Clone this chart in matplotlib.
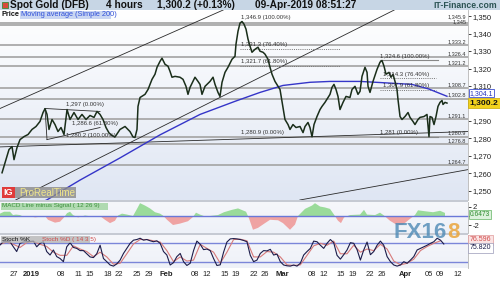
import matplotlib
matplotlib.use('Agg')
import matplotlib.pyplot as plt
import matplotlib.transforms as mtransforms
from matplotlib.colors import to_rgb
from matplotlib.patches import Rectangle
import numpy as np

plt.rcParams['font.family'] = ['Liberation Sans', 'DejaVu Sans']

W, H = 500, 281

# x = trading days counted from 27 Dec 2018
days = [-2.05, -1.37, -0.86, -0.34, 0.00, 0.51, 1.03, 1.71, 2.40, 3.08, 3.77, 4.45, 4.97, 5.31, 5.65,
        5.99, 6.51, 7.02, 7.53, 8.05, 8.56, 9.08, 9.59, 10.27, 10.96, 11.64, 12.33, 13.01, 13.70, 14.21,
        14.73, 15.24, 15.75, 16.27, 16.78, 17.29,
        18.15, 19.01, 19.86, 20.38, 20.72, 21.06, 21.23, 21.58, 22.43, 22.95, 23.29, 23.63, 24.14, 24.49,
        25.00, 25.34, 25.86, 26.37, 26.71, 27.05, 27.57, 28.42, 28.94, 29.45, 29.79, 30.14, 30.99, 31.51,
        31.85, 32.19, 32.71, 33.56, 34.08, 34.42, 34.93, 35.27, 35.62, 36.13, 36.64, 37.33, 37.84,
        38.01, 38.36, 38.70, 39.04, 39.38, 39.73, 40.07, 40.41, 40.75, 41.27, 41.78, 42.12, 42.64, 42.98,
        43.49, 43.84, 44.18, 44.69, 45.55, 46.06, 46.40, 46.92, 47.26, 47.77, 48.29, 48.97, 49.49, 49.83,
        50.34, 50.68, 51.03, 51.37, 51.88, 52.40, 52.74, 53.25, 53.77, 54.11, 54.45, 54.79, 55.14, 55.48,
        55.82, 56.34, 56.85, 57.53,
        57.88, 58.39, 58.90, 59.25, 59.59, 60.10, 60.45, 60.62, 60.96, 61.47, 62.16, 62.67, 63.01, 63.36,
        63.70, 64.21, 64.55, 64.90, 65.24, 65.58, 65.75, 66.10, 66.44, 66.95, 67.47, 67.81, 68.32, 68.66,
        69.18, 69.52, 70.21, 70.72, 71.06, 71.23, 71.58, 71.92, 72.26, 72.60, 72.95, 73.29, 73.46, 73.80,
        74.14]
closes = [1260.3, 1267.8, 1273.6, 1275.3, 1267.8, 1274.7, 1279.3, 1281.0, 1282.2, 1285.1, 1286.8, 1289.7,
          1294.8, 1297.0, 1293.7, 1285.1, 1290.8, 1287.9, 1283.9, 1286.2, 1282.2, 1296.5, 1290.8, 1294.8,
          1290.8, 1293.7, 1290.8, 1293.1, 1292.0, 1295.4, 1293.7, 1290.8, 1286.2, 1283.1, 1281.6, 1280.8,
          1285.1, 1286.8, 1283.9, 1280.8, 1280.5, 1285.1, 1298.3, 1303.4, 1305.2, 1308.0, 1310.9, 1313.8,
          1316.7, 1320.7, 1324.1, 1325.9, 1322.4, 1321.3, 1318.4, 1315.0, 1315.5, 1315.0, 1313.8, 1309.8,
          1305.2, 1309.2, 1315.0, 1312.6, 1310.9, 1305.2, 1309.8, 1312.6, 1315.0, 1310.9, 1306.3, 1304.0,
          1312.1, 1317.8, 1320.7, 1325.3, 1327.0,
          1333.9, 1341.4, 1346.0, 1346.9, 1345.4, 1342.5, 1336.8, 1332.8, 1329.3, 1331.0, 1332.2, 1329.9,
          1329.3, 1328.2, 1325.3, 1320.7, 1316.7, 1312.6, 1308.0, 1297.7, 1290.8, 1287.9, 1285.1, 1287.9,
          1286.2, 1286.8, 1283.3, 1286.8, 1289.1, 1286.2, 1280.9, 1287.9, 1292.5, 1296.5, 1298.3, 1300.6,
          1303.4, 1305.2, 1309.2, 1310.9, 1308.0, 1304.0, 1296.5, 1300.6, 1304.0, 1303.4,
          1308.0, 1309.8, 1305.2, 1306.9, 1315.5, 1320.7, 1317.8, 1309.8, 1306.3, 1312.6, 1319.5, 1323.6,
          1324.6, 1321.3, 1316.7, 1317.8, 1315.0, 1316.7, 1312.6, 1308.0, 1302.3, 1292.5, 1290.8, 1292.5,
          1294.8, 1292.0, 1289.7, 1287.9, 1290.8, 1292.0, 1292.5, 1293.7, 1281.0, 1292.5, 1292.0, 1287.9,
          1292.5, 1298.3, 1300.6, 1301.7, 1299.4, 1300.6, 1300.2]

ma_days = [4.5, 5.65, 11.30, 18.15, 25.00, 31.85, 37.84, 42.12, 46.06, 50.68, 54.11, 59.25, 62.5,
           68.15, 71.0, 74.14]
ma_vals = [1243.0, 1244.8, 1256.1, 1268.8, 1282.0, 1293.7, 1301.2, 1306.3, 1310.3, 1312.1, 1312.6,
           1312.6, 1312.0, 1310.9, 1308.3, 1304.1]

levels = [1345.9, 1345.0, 1333.2, 1326.4, 1321.2, 1308.7, 1302.8, 1291.1, 1280.9, 1276.8, 1264.7]
level_labels = ['1,345.9', '1,345', '1,333.2', '1,326.4', '1,321.2', '1,308.7', '1,302.8', '1,291.1',
                '1,280.9', '1,276.8', '1,264.7']

# trend lines, each through two (day, price) points
trend_lines = [((-2.40, 1297.1), (35.79, 1353.45)),
               ((0.34, 1244.8), (65.41, 1354.0)),
               ((-2.40, 1275.1), (77.74, 1283.9)),
               ((48.12, 1244.2), (77.74, 1262.1))]
triangle = [((5.31, 1297.1), (14.73, 1295.4)),
            ((5.65, 1279.3), (14.73, 1286.2)),
            ((5.31, 1297.1), (5.65, 1279.3))]

fib_feb = [1346.9, 1331.3, 1321.7, 1280.9]
fib_feb_text = ['1,346.9 (100.00%)', '1,331.3 (76.40%)', '1,321.7 (61.80%)', '1,280.9 (0.00%)']
fib_mar = [1324.6, 1314.3, 1307.9, 1281.0]
fib_mar_text = ['1,324.6 (100.00%)', '1,314.3 (76.40%)', '1,307.9 (61.80%)', '1,281 (0.00%)']
fib_jan_text = ['1,297 (0.00%)', '1,286.6 (61.80%)', '1,280.2 (100.00%)']

macd_days = [-2.40, -1.71, -0.68, -0.17, 0.34, 1.03, 1.71, 2.74, 3.60, 5.31, 5.82, 7.02, 7.88, 8.56,
             9.08, 9.59, 10.10, 10.96, 12.16, 13.87, 14.73, 15.58, 16.44, 17.29, 17.81, 18.49, 19.35,
             20.38, 21.06, 21.58, 22.43, 23.29, 24.14, 25.00, 25.51, 26.20, 27.23, 28.42, 29.79, 30.65,
             31.16, 31.85, 32.71, 33.56, 34.93, 35.96, 37.33, 38.36, 39.73, 40.24, 40.92, 41.78, 42.98,
             43.84, 45.21, 46.06, 47.26, 48.12, 48.63, 49.83, 51.03, 51.54, 52.40, 53.25, 54.11, 54.79,
             55.48, 55.99, 56.51, 57.53, 59.25, 59.93, 60.45, 61.82, 62.67, 63.36, 64.38, 65.58, 66.61,
             67.81, 68.66, 69.18, 70.38, 71.75, 72.95, 73.80]
macd_vals = [0.5, 0.9, 0.9, 0.2, 0.3, 0.2, -0.2, 0.0, -0.3, 0.0, -0.8, -1.4, -1.2, -0.3, 0.6, 0.9, 0.2,
             -0.3, 0.1, -0.2, 0.0, -0.8, -1.5, -1.0, 0.1, 0.5, 0.3, 0.0, 1.5, 2.7, 2.2, 1.6, 0.8, 0.5,
             0.1, -0.8, -1.9, -1.6, -1.1, -0.2, 0.7, 0.3, -0.1, 0.0, 0.2, 0.8, 1.3, 1.6, 0.9, -0.5, -2.9,
             -2.5, -1.5, -0.8, -0.9, -1.5, -2.9, -1.8, 0.0, 1.5, 2.2, 2.7, 2.0, 1.8, 1.5, 0.3, -1.0, -1.5,
             -0.3, 0.2, 0.3, 1.3, 0.3, 0.2, 0.7, 0.1, -1.0, -1.9, -1.8, -0.6, 0.2, 1.2, 1.0, 0.8, 1.1, 0.65]

# stochastic readings, one every 4/7 trading day starting at day -2.4
stoch_k = [72.6, 83, 83, 83, 67, 52, 78, 82, 83, 84, 85, 67, 78, 83, 52, 41, 57, 36, 30, 20,
           67, 80, 65, 62, 55, 55, 45, 35, 33, 45, 72, 30, 20, 9.5, 6, 13, 25, 46, 62, 78,
           88, 90, 94, 88, 90, 86, 83, 86, 78, 52, 41, 9.5, 17, 36, 46, 20, 8, 15, 55, 85,
           75, 58, 60, 55, 30, 8, 10, 50, 82, 92, 93, 92, 90, 87, 83, 40, 20, 25, 46, 55,
           54, 59, 41, 44, 20, 9.5, 7, 6, 9.5, 6, 15, 41, 52, 62, 85, 83, 72, 62, 78, 90,
           80, 40, 28, 42, 57, 80, 78, 58, 25, 57, 82, 42, 52, 72, 85, 72, 36, 20, 9.5, 6,
           9.5, 20, 15, 25, 36, 57, 62, 67, 72, 78, 83, 94, 88, 75.8]
# %D, one every 8/7 trading day
stoch_d = [75, 82, 75, 65, 80, 84, 75, 68, 50, 40, 40, 70, 60, 52, 36, 50, 35, 12, 15, 45,
           76, 90, 90, 86, 82, 55, 20, 35, 22, 25, 75, 62, 50, 15, 50, 90, 91, 86, 35, 35,
           52, 50, 35, 10, 8, 10, 40, 70, 78, 72, 85, 45, 45, 72, 50, 60, 55, 75, 60, 22,
           10, 15, 28, 55, 68, 78, 86]

tick_days = [0, 3, 8, 11, 13, 16, 18, 21, 23, 26, 31, 33, 36, 38, 41, 43, 46, 51, 53, 56, 58, 61,
             63, 67, 71, 73, 76]
tick_labels = ['27', '2019', '08', '11', '15', '18', '22', '25', '29', 'Feb', '08', '12', '15', '19',
               '22', '26', 'Mar', '08', '12', '15', '19', '22', '26', 'Apr', '05', '09', '12']
bold_ticks = ['2019', 'Feb', 'Mar', 'Apr']


def rect(x0, y0, x1, y1):
    return [x0 / W, 1 - y1 / H, (x1 - x0) / W, (y1 - y0) / H]


def fx(x):
    return x / W


def fy(y):
    return 1 - y / H


def gradient(ax, top, bottom):
    t = np.linspace(0, 1, 64)[:, None]
    img = (np.array(to_rgb(top)) * (1 - t) + np.array(to_rgb(bottom)) * t)[:, None, :]
    ax.imshow(img, extent=[0, 1, 0, 1], transform=ax.transAxes, aspect='auto', zorder=0)


fig = plt.figure(figsize=(W / 100, H / 100), dpi=100)
fig.patch.set_facecolor('white')

ax_p = fig.add_axes(rect(0, 10, 468, 200))
ax_m = fig.add_axes(rect(0, 202, 468, 233))
ax_s = fig.add_axes(rect(0, 235, 468, 268))

gradient(ax_p, '#ffffff', '#dfe6f3')
gradient(ax_m, '#f6f7fb', '#eef1f8')
gradient(ax_s, '#f6f7fb', '#eef1f8')

for ax in (ax_p, ax_m, ax_s):
    for s in ax.spines.values():
        s.set_visible(False)
    ax.spines['right'].set_visible(True)
    ax.spines['right'].set_color('#b5b5b5')
    ax.spines['right'].set_linewidth(0.6)

# ---- price panel ----
tp = mtransforms.blended_transform_factory(ax_p.transAxes, ax_p.transData)
for lv, lab in zip(levels, level_labels):
    ax_p.axhline(lv, color='#a9a9a9', lw=1.3, zorder=1)
    dy = 2.0 if lab == '1,345.9' else 0.6
    ax_p.text(0.996, lv + dy, lab, transform=tp, ha='right', va='bottom', fontsize=4.0,
              color='#333333', zorder=5)

for p0, p1 in trend_lines:
    ax_p.axline(p0, p1, color='#2a2a2a', lw=0.6, zorder=2)
for p0, p1 in triangle:
    ax_p.plot([p0[0], p1[0]], [p0[1], p1[1]], color='#2a2a2a', lw=0.6, zorder=2)

# fib retracement from the February high
ax_p.plot([38.7, 55.8], [fib_feb[1]] * 2, color='#777777', lw=0.7, ls=(0, (1, 1.2)), zorder=2)
ax_p.plot([38.7, 55.8], [fib_feb[2]] * 2, color='#777777', lw=0.7, ls=(0, (1, 1.2)), zorder=2)
for lv, lab in zip(fib_feb, fib_feb_text):
    ax_p.text(38.87, lv + 0.9, lab, fontsize=4.3, color='#333333', va='bottom', ha='left', zorder=5)
# fib retracement from the March high
ax_p.plot([62.67, 72.6], [fib_mar[0]] * 2, color='#888888', lw=0.8, zorder=2)
ax_p.plot([62.67, 72.3], [fib_mar[1]] * 2, color='#777777', lw=0.7, ls=(0, (1, 1.2)), zorder=2)
ax_p.plot([62.67, 72.3], [fib_mar[2]] * 2, color='#777777', lw=0.7, ls=(0, (1, 1.2)), zorder=2)
ax_p.plot([62.67, 72.6], [fib_mar[3]] * 2, color='#888888', lw=0.8, zorder=2)
for lv, lab, x0 in zip(fib_mar, fib_mar_text, [62.67, 63.18, 63.18, 62.67]):
    ax_p.text(x0, lv + 0.9, lab, fontsize=4.3, color='#333333', va='bottom', ha='left', zorder=5)
# fib on the January range
for (xd, yp), lab in zip([(8.9, 1299.6), (9.93, 1288.7), (8.9, 1281.9)], fib_jan_text):
    ax_p.text(xd, yp, lab, fontsize=4.3, color='#333333', va='center', ha='left', zorder=5)

ax_p.plot(ma_days, ma_vals, color='#3535c8', lw=1.0, zorder=3)
ax_p.plot(days, closes, color='#1a2e1a', lw=1.1, zorder=4)

ax_p.set_xlim(-2.4, 77.74)
ax_p.set_ylim(1244.7, 1353.5)
ax_p.set_xticks([])
ax_p.yaxis.tick_right()
price_ticks = np.arange(1250, 1351, 10)
ax_p.set_yticks(price_ticks)
# 1,300 sits under the last-price box
ax_p.set_yticklabels(['' if v == 1300 else f'{v:,}' for v in price_ticks])
ax_p.tick_params(axis='y', length=2, width=0.6, pad=1.5, labelsize=5.5, colors='#222222')

ax_p.text(1.004, 1305.9, '1,304.1', transform=tp, ha='left', va='center', fontsize=5.0,
          color='#2434c0', bbox=dict(boxstyle='square,pad=0.12', fc='white', ec='#3d4fd0', lw=0.6),
          clip_on=False, zorder=6)
ax_p.text(1.004, 1300.2, '1,300.2', transform=tp, ha='left', va='center', fontsize=6.1,
          fontweight='bold', color='#111111',
          bbox=dict(boxstyle='square,pad=0.2', fc='#f2d21c', ec='#c9a800', lw=0.5),
          clip_on=False, zorder=7)

# ---- MACD panel ----
mx = np.array(macd_days)
mv = np.array(macd_vals)
ax_m.fill_between(mx, mv, 0, where=mv >= 0, interpolate=True, color='#9adb9a', lw=0, zorder=2)
ax_m.fill_between(mx, mv, 0, where=mv <= 0, interpolate=True, color='#efa3a3', lw=0, zorder=2)
ax_m.axhline(0, color='#6a78d8', lw=1.0, zorder=3)
ax_m.set_xlim(-2.4, 77.74)
ax_m.set_ylim(-3.58, 2.95)
ax_m.set_xticks([])
ax_m.yaxis.tick_right()
ax_m.set_yticks([-2, 0, 2])
ax_m.set_yticklabels(['-2', '', '2'])
ax_m.tick_params(axis='y', length=2, width=0.6, pad=1.5, labelsize=5.5, colors='#222222')
tm = mtransforms.blended_transform_factory(ax_m.transAxes, ax_m.transData)
ax_m.text(1.004, 0.3, '0.6473', transform=tm, ha='left', va='center', fontsize=4.8, color='#2e8b2e',
          bbox=dict(boxstyle='square,pad=0.15', fc='#dcf2dc', ec='#62b462', lw=0.5),
          clip_on=False, zorder=6)

# ---- stochastic panel ----
kx = -2.4 + np.arange(len(stoch_k)) * 4 / 7
dx = -2.4 + np.arange(len(stoch_d)) * 8 / 7
ax_s.axhline(80, color='#7b86d9', lw=1.0, zorder=2)
ax_s.axhline(20, color='#7b86d9', lw=1.0, zorder=2)
ax_s.plot(dx, stoch_d, color='#d77a7a', lw=0.8, zorder=3)
ax_s.plot(kx, stoch_k, color='#1c1c4a', lw=0.8, zorder=4)
ax_s.set_xlim(-2.4, 77.74)
ax_s.set_ylim(0, 104.3)
ax_s.set_yticks([])
ax_s.set_xticks(tick_days)
ax_s.set_xticklabels(tick_labels)
ax_s.tick_params(axis='x', length=0, pad=2.5, labelsize=5.5, colors='#222222')
for lab in ax_s.get_xticklabels():
    if lab.get_text() in bold_ticks:
        lab.set_fontweight('bold')
ts = mtransforms.blended_transform_factory(ax_s.transAxes, ax_s.transData)
ax_s.text(1.004, 88.5, '76.596', transform=ts, ha='left', va='center', fontsize=5, color='#d04a4a',
          bbox=dict(boxstyle='square,pad=0.2', fc='#fbe3e3', ec='#e09a9a', lw=0.5),
          clip_on=False, zorder=6)
ax_s.text(1.004, 63.3, '75.820', transform=ts, ha='left', va='center', fontsize=5, color='#1c1c4a',
          bbox=dict(boxstyle='square,pad=0.2', fc='white', ec='#9a9ab8', lw=0.5),
          clip_on=False, zorder=6)

# ---- frame: header, separators, labels ----
fig.patches.append(Rectangle((0, fy(10)), 1, 10 / H, transform=fig.transFigure, fc='#c7d6e5', ec='none'))
fig.patches.append(Rectangle((fx(0), fy(202)), 468 / W, 2 / H, transform=fig.transFigure,
                             fc='#c6cad3', ec='none'))
fig.patches.append(Rectangle((fx(0), fy(235)), 468 / W, 2 / H, transform=fig.transFigure,
                             fc='#c6cad3', ec='none'))
fig.patches.append(Rectangle((fx(2), fy(8)), 6 / W, 6 / H, transform=fig.transFigure,
                             fc='#d84a3a', ec='#3a8a3a', lw=0.6))

hy = fy(5.2)
fig.text(fx(10), hy, 'Spot Gold (DFB)', fontsize=7.3, fontweight='bold', va='center', color='#111111')
fig.text(fx(106), hy, '4 hours', fontsize=7.3, fontweight='bold', va='center', color='#111111')
fig.text(fx(157), hy, '1,300.2 (+0.13%)', fontsize=7.3, fontweight='bold', va='center', color='#111111')
fig.text(fx(255), hy, '09-Apr-2019 08:51:27', fontsize=7.3, fontweight='bold', va='center',
         color='#111111')
fig.text(fx(497), hy, 'IT-Finance.com', fontsize=6.2, fontweight='bold', va='center', ha='right',
         color='#2b5353')

fig.patches.append(Rectangle((fx(20), fy(19)), 91 / W, 8 / H, transform=fig.transFigure,
                             fc='#c9d6f2', ec='none'))
fig.text(fx(2), fy(15), 'Price', fontsize=5.3, fontweight='bold', va='center', color='#111111')
fig.text(fx(21), fy(15), 'Moving average (Simple 200)', fontsize=5.3, va='center', color='#2f4fd8')

# ProRealTime logo
fig.patches.append(Rectangle((fx(2), fy(198)), 13 / W, 11 / H, transform=fig.transFigure,
                             fc='#e03b3b', ec='none'))
fig.patches.append(Rectangle((fx(15), fy(198)), 61 / W, 11 / H, transform=fig.transFigure,
                             fc='#8a8a8a', ec='none', alpha=0.8))
fig.text(fx(8.5), fy(192.5), 'IG', fontsize=6.5, fontweight='bold', color='white', ha='center',
         va='center')
fig.text(fx(19), fy(192.5), 'ProRealTime', fontsize=7, color='#efe58a', va='center')

# indicator captions
fig.patches.append(Rectangle((fx(1), fy(209.5)), 107 / W, 7 / H, transform=fig.transFigure,
                             fc='#9fd49f', ec='none', alpha=0.8))
fig.text(fx(2), fy(206), 'MACD Line minus Signal ( 12 26 9)', fontsize=4.5, color='#3b8f3b',
         va='center')
fig.patches.append(Rectangle((fx(1), fy(243)), 89 / W, 7 / H, transform=fig.transFigure,
                             fc='#b3b3b3', ec='none', alpha=0.75))
fig.text(fx(2), fy(239.5), 'Stoch %K', fontsize=4.6, color='#111111', va='center')
fig.text(fx(42), fy(239.5), 'Stoch %D ( 14 3 5)', fontsize=4.6, color='#d04a4a', va='center')

# watermark
fig.text(fx(447), fy(233), 'FX16', fontsize=16, fontweight='bold', color='#4d89b5', alpha=0.8,
         ha='right', va='center')
fig.text(fx(447), fy(233), '8', fontsize=16, fontweight='bold', color='#eaa53c', alpha=0.85,
         ha='left', va='center')

fig.savefig('out.png', dpi=100)
